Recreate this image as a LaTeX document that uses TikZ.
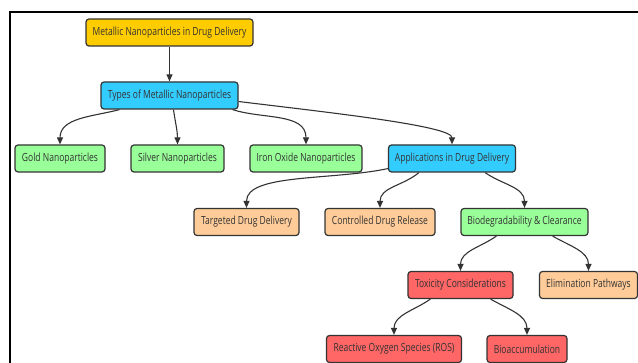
\documentclass[tikz,border=0pt]{standalone}
\usepackage{fontspec}
\setmainfont[FakeStretch=0.76]{Open Sans}
\usepackage{tikz}
\usetikzlibrary{
  arrows.meta}

\definecolor{rootfill}{HTML}{FFCC00}
\definecolor{typefill}{HTML}{33CCFF}
\definecolor{leaffill}{HTML}{99FF99}
\definecolor{usefill}{HTML}{FFCC99}
\definecolor{riskfill}{HTML}{FF6666}
\definecolor{linegray}{HTML}{333333}

\begin{document}
\begin{tikzpicture}[x=1pt,y=1pt,
  box/.style={draw=linegray, line width=1.2pt, rounded corners=3pt,
    minimum height=27pt, inner xsep=4pt, text=linegray,
    font=\fontsize{11.2}{13}\selectfont},
  link/.style={draw=linegray, line width=1.1pt,
    -{Triangle[width=6pt,length=7pt]}}]
\useasboundingbox (0,0) rectangle (638,-363);
\draw[line width=2pt] (638,-12) -- (10,-12) -- (10,-364);

\node[box, fill=rootfill, minimum width=167pt] (root) at (169.5,-32.5) {Metallic Nanoparticles in Drug Delivery};
\node[box, fill=typefill, minimum width=137pt] (types) at (169.5,-95.5) {Types of Metallic Nanoparticles};
\node[box, fill=leaffill, minimum width=90pt] (gold) at (60,-158.5) {Gold Nanoparticles};
\node[box, fill=leaffill, minimum width=93pt] (silver) at (177.5,-158.5) {Silver Nanoparticles};
\node[box, fill=leaffill, minimum width=112pt] (iron) at (306,-158.5) {Iron Oxide Nanoparticles};
\node[box, fill=typefill, minimum width=127pt] (apps) at (452,-158.5) {Applications in Drug Delivery};
\node[box, fill=usefill, minimum width=105pt] (target) at (246.5,-222) {Targeted Drug Delivery};
\node[box, fill=usefill, minimum width=110pt] (release) at (380,-222) {Controlled Drug Release};
\node[box, fill=leaffill, minimum width=127pt] (biodeg) at (524.5,-222) {Biodegradability \& Clearance};
\node[box, fill=riskfill, minimum width=105pt] (tox) at (460.5,-285) {Toxicity Considerations};
\node[box, fill=usefill, minimum width=98pt] (elim) at (588.5,-285) {Elimination Pathways};
\node[box, fill=riskfill, minimum width=135pt] (ros) at (394,-349) {Reactive Oxygen Species (ROS)};
\node[box, fill=riskfill, minimum width=80pt] (bioacc) at (527,-349) {Bioaccumulation};

\draw[link] (root) -- (types);
\draw[link] ([xshift=19pt]types.south west) to[out=195, in=90] (gold.north);
\draw[link] ([xshift=4pt]types.south) to[out=-82, in=90] (silver.north);
\draw[link] ([xshift=-6pt]types.south east) to[out=-18, in=90] (iron.north);
\draw[link] ([yshift=-6pt]types.east) to[out=-7, in=90, out looseness=1, in looseness=0.22] (apps.north);
\draw[link] ([yshift=4pt]apps.south west) to[out=192, in=90, in looseness=0.6] (target.north);
\draw[link] ([xshift=31pt]apps.south west) to[out=-140, in=90] (release.north);
\draw[link] ([xshift=-31pt]apps.south east) to[out=-35, in=90] (biodeg.north);
\draw[link] ([xshift=36pt]biodeg.south west) to[out=-145, in=90] (tox.north);
\draw[link] ([xshift=-36pt]biodeg.south east) to[out=-30, in=90] (elim.north);
\draw[link] ([xshift=23pt]tox.south west) to[out=-145, in=90] (ros.north);
\draw[link] ([xshift=-23pt]tox.south east) to[out=-30, in=90] (bioacc.north);
\end{tikzpicture}
\end{document}
